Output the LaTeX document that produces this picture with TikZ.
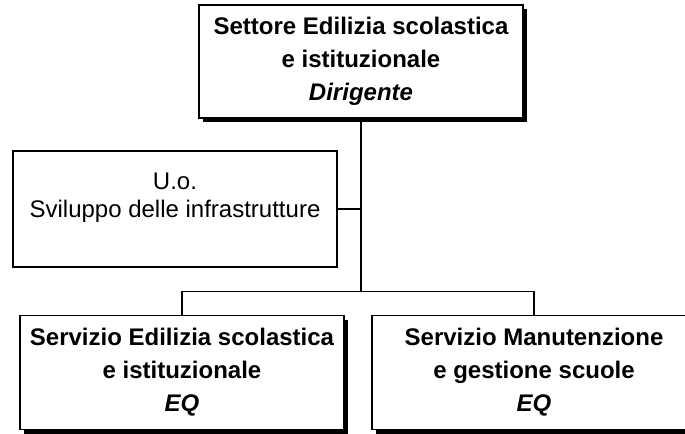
\documentclass[tikz,border=0pt]{standalone}
\usepackage{fontspec}
\setmainfont{Liberation Sans}
\usepackage{tikz}
\usetikzlibrary{positioning, shadows}
\tikzset{
  orgchart/.style={
	line width=1.2bp, % thickness of boxes and connectors
	node distance=147.5bp, % vertical distance between the levels
	font=\fontsize{24bp}{33bp}\selectfont, % text size of every box
  },
  ufficio/.style={
	draw, fill=white, align=center, inner sep=0pt, % plain box
	minimum width=324bp, minimum height=114bp, % same size for all boxes
  },
  settore/.style={
	ufficio, font=\fontsize{24bp}{33bp}\selectfont\bfseries, % bold text
	drop shadow={shadow xshift=4bp, shadow yshift=-4bp, fill=black, opacity=1}, % black shadow
  },
}

\begin{document}
\begin{tikzpicture}[orgchart]
	  \useasboundingbox (0,0) rectangle (685bp,-434bp);
	  \clip (0,0) rectangle (685bp,-434bp);
	  \node[settore, minimum height=113bp] (sett) at (361bp,-61.5bp) {Settore Edilizia scolastica\\e istituzionale\\\textit{Dirigente}};
	  \node[ufficio, below of=sett, xshift=-186bp, yshift=0bp, minimum height=116bp, font=\fontsize{24bp}{28bp}\selectfont] (uo) {U.o.\\Sviluppo delle infrastrutture\\\mbox{}};
	  \node[settore, below of=uo, xshift=7bp, yshift=-16bp] (edil) {Servizio Edilizia scolastica\\e istituzionale\\\textit{EQ}};
	  \node[settore, right of=edil, xshift=204.5bp, yshift=0bp] (manut) {Servizio Manutenzione\\e gestione scuole\\\textit{EQ}};
	  \coordinate[below=173bp of sett.south] (bus);
	  \draw   (sett.south) -- (bus)
		  (uo.east) -- (uo.east -| bus)
		  (edil.north) |- (bus) -| (manut.north)
	  ;
	  \end{tikzpicture}
\end{document}
